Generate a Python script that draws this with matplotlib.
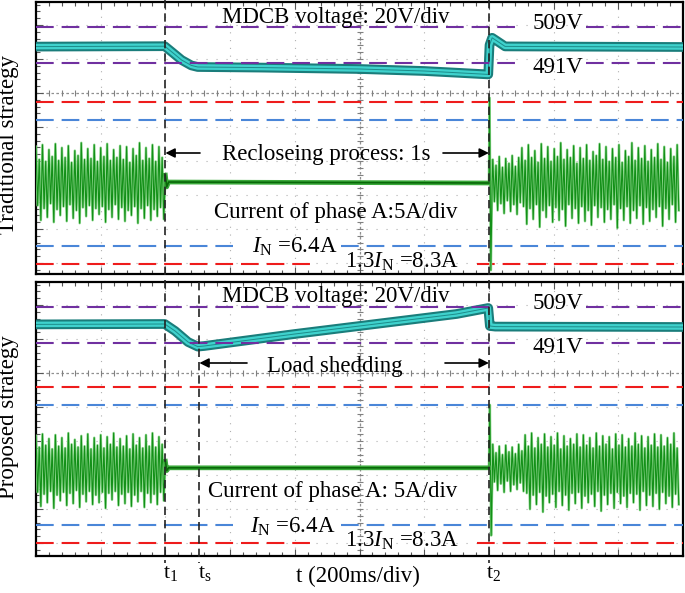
import numpy as np
import matplotlib
matplotlib.use("Agg")
import matplotlib.pyplot as plt
from matplotlib.lines import Line2D
from matplotlib.patches import FancyArrowPatch
from matplotlib.transforms import blended_transform_factory, offset_copy

plt.rcParams["font.family"] = "Liberation Serif"
plt.rcParams["mathtext.fontset"] = "custom"
plt.rcParams["mathtext.rm"] = "Liberation Serif"
plt.rcParams["mathtext.it"] = "Liberation Serif:italic"

# time base: 200 ms/div, 10 div
t_end = 2000
t1, ts, t2 = 400, 505, 1400
v_hi, v_lo = 509, 491      # V
i_n, i_lim = 6.4, 8.3      # A
step_ms = 10               # one main + one secondary spike per 50 Hz cycle

# MDCB voltage (ms, V)
trad_v_t = [0, 398, 420, 450, 480, 500, 700, 1000, 1200, 1398, 1402, 1410, 1425, 1450, 2000]
trad_v = [499.2, 499.4, 496.5, 492.5, 489.8, 489.0, 488.7, 488.0, 487.0, 485.3, 500.0, 503.6, 502.0, 499.3, 499.0]
prop_v_t = [0, 398, 430, 470, 500, 520, 800, 1100, 1300, 1398, 1403, 1420, 2000]
prop_v = [500.3, 500.5, 497.0, 491.5, 489.2, 489.5, 495.5, 501.5, 505.5, 508.5, 499.5, 499.2, 499.0]

# phase A current, spike peaks / troughs (A)
trad_pre_pk = [3.7, 2.4, 3.9, 2.2, 3.4, 2.7, 4.0, 2.3, 3.6, 2.6, 3.8, 2.1, 3.3, 2.8, 4.1, 2.4, 3.5, 2.5, 3.9, 2.2,
               3.6, 2.7, 4.0, 2.3, 3.4, 2.6, 3.8, 2.4, 3.7, 2.1, 3.5, 2.8, 4.1, 2.3, 3.6, 2.5, 3.9, 2.2, 3.7, 2.6]
trad_pre_tr = [-2.3, -3.8, -2.6, -3.5, -2.1, -4.0, -2.7, -3.3, -2.4, -3.9, -2.2, -3.6, -2.8, -4.1, -2.5, -3.4, -2.3, -3.8, -2.6, -3.2,
               -2.4, -4.0, -2.7, -3.5, -2.2, -3.7, -2.5, -3.9, -2.8, -3.3, -2.4, -4.1, -2.6, -3.6, -2.3, -3.8, -2.7, -3.4, -2.5, -3.7]
trad_mid_t = [400, 404, 410, 1400]
trad_mid = [0.8, -0.4, 0.1, 0.0]
trad_step_t = [1400, 1402, 1406, 1410]
trad_step = [0.0, 8.7, -8.9, 0.0]
trad_post_pk = [2.4, 1.8, 2.7, 1.6, 2.5, 2.0, 2.8, 1.7, 2.6,
                3.6, 2.3, 3.9, 2.6, 3.3, 2.1, 4.0, 2.5, 3.7, 2.2, 3.5, 2.7, 4.1, 2.4, 3.4, 2.6, 3.8, 2.0, 3.6, 2.5,
                3.9, 2.3, 3.2, 2.8, 4.0, 2.4, 3.7, 2.2, 3.5, 2.6, 3.9, 2.1, 3.3, 2.7, 4.1, 2.3, 3.6, 2.5, 3.8, 2.2,
                3.4, 2.6, 4.0, 2.4, 3.7, 2.1, 3.5, 2.7, 3.9]
trad_post_tr = [-1.9, -2.8, -2.1, -3.1, -1.8, -2.9, -2.2, -3.2, -2.0,
                -2.4, -4.2, -2.6, -3.7, -2.2, -4.5, -2.8, -3.5, -2.3, -4.0, -2.5, -3.8, -2.7, -4.4, -2.2, -3.6, -2.6, -4.1, -2.4, -3.9,
                -2.8, -4.3, -2.3, -3.5, -2.5, -4.0, -2.7, -3.7, -2.2, -4.6, -2.6, -3.8, -2.4, -4.1, -2.8, -3.6, -2.3, -4.2, -2.5, -3.9,
                -2.7, -3.5, -2.4, -4.4, -2.6, -3.7, -2.2, -4.0, -2.8]

prop_pre_pk = [3.1, 1.9, 3.3, 2.1, 2.8, 1.7, 3.2, 2.0, 2.9, 1.8, 3.4, 2.2, 2.7, 1.9, 3.1, 2.0, 3.3, 1.7, 2.9, 2.1,
               3.2, 1.8, 3.0, 2.2, 3.4, 1.9, 2.8, 2.0, 3.1, 1.7, 3.3, 2.1, 2.9, 1.8, 3.2, 2.0, 3.4, 1.9, 3.0, 2.2]
prop_pre_tr = [-2.9, -4.4, -3.1, -4.0, -2.8, -4.6, -3.2, -3.8, -2.9, -4.3, -3.0, -4.1, -2.7, -4.5, -3.1, -3.9, -2.8, -4.2, -3.2, -4.0,
               -2.9, -4.6, -3.0, -3.7, -2.8, -4.3, -3.1, -4.1, -2.9, -4.4, -3.2, -3.9, -2.8, -4.5, -3.0, -4.0, -3.1, -4.2, -2.9, -3.8]
prop_mid_t = [400, 404, 410, 1400]
prop_mid = [0.4, -0.6, -0.3, -0.3]
prop_step_t = [1400, 1403, 1407, 1411]
prop_step = [-0.3, 6.4, -7.5, -0.5]
prop_post_pk = [2.2, 1.3, 2.0, 1.1, 2.1, 1.4, 1.9, 1.2, 2.2, 1.5,
                3.2, 2.0, 3.4, 1.8, 2.9, 2.2, 3.3, 1.9, 3.0, 2.1, 3.4, 1.7, 3.1, 2.0, 2.8, 2.2, 3.3, 1.9, 3.2, 2.1,
                2.9, 1.8, 3.4, 2.0, 3.1, 2.2, 3.0, 1.7, 3.3, 2.1, 3.2, 1.9, 2.8, 2.0, 3.4, 2.2, 3.1, 1.8, 3.0, 2.1,
                3.3, 1.9, 3.2, 2.0, 2.9, 2.2, 3.4, 1.8]
prop_post_tr = [-1.8, -2.7, -2.0, -2.9, -1.7, -2.8, -2.1, -2.6, -1.9, -2.8,
                -3.0, -4.7, -3.2, -4.2, -2.9, -5.0, -3.3, -4.0, -3.1, -4.5, -2.8, -4.3, -3.2, -4.8, -3.0, -4.1, -2.9, -4.6, -3.3, -4.0,
                -3.1, -4.4, -2.8, -4.9, -3.2, -4.2, -3.0, -4.6, -2.9, -4.1, -3.3, -4.5, -3.0, -4.0, -3.1, -4.8, -2.8, -4.3, -3.2, -4.4,
                -3.0, -4.7, -2.9, -4.1, -3.3, -4.5, -3.1, -4.2]

W, H = 685, 593
fig = plt.figure(figsize=(W / 100, H / 100), dpi=100)


def box(x0, y0, x1, y1):
    return [x0 / W, 1 - y1 / H, (x1 - x0) / W, (y1 - y0) / H]


def fy(y):
    return 1 - y / H


def spikes(start, pk, tr):
    t = start + step_ms * np.arange(len(pk))
    return np.column_stack([t, t + step_ms / 2]).ravel(), np.column_stack([pk, tr]).ravel()


purple, red, blue = "#7030a0", "#ee1c1c", "#4a86d8"
dash = (0, (8.5, 3.8))


def panel(ax, hpx, zero_px, px_per_a, v_t, v, pre, mid, step, post):
    ax.set_xlim(0, t_end)
    ax.set_ylim(hpx, 0)
    # scope graticule
    for k in range(1, 10):
        ax.axvline(200 * k, color="#b0b0b0", lw=0.8, ls=(0, (1, 6)), zorder=0)
    rows = [r for r in 91 + 34 * np.arange(-3, 7) if 0 < r < hpx]
    for r in rows:
        ax.axhline(r, color="#b0b0b0", lw=0.8, ls=(0, (1, 8)), zorder=0)
    ax.axhline(91, color="#909090", lw=0.9, ls=(0, (2, 2)), zorder=0)
    ax.axvline(1000, color="#909090", lw=0.9, ls=(0, (2, 2)), zorder=0)
    mx = np.arange(40, t_end, 40)
    my = [m for m in 91 + 6.8 * np.arange(-14, 30) if 0 < m < hpx]
    ax.plot(mx, [91] * len(mx), ls="none", marker="|", ms=4, color="#808080", mew=0.8, zorder=0)
    ax.plot([1000] * len(my), my, ls="none", marker="_", ms=4, color="#808080", mew=0.8, zorder=0)
    ax.set_xticks(np.arange(0, t_end + 1, 200))
    ax.set_xticks(mx, minor=True)
    ax.set_yticks(rows)
    ax.set_yticks(my, minor=True)
    ax.tick_params(which="both", direction="in", top=True, right=True, labelbottom=False,
                   labelleft=False, color="#555555", width=0.8)
    ax.tick_params(which="major", length=5)
    ax.tick_params(which="minor", length=3)
    for s in ax.spines.values():
        s.set_linewidth(1.6)
        s.set_zorder(5)

    # voltage channel (2 px per V)
    av = ax.twinx()
    av.set_ylim(509 + 25 / 2 - hpx / 2, 509 + 25 / 2)
    av.axis("off")
    av.plot(v_t, v, color="#1a7d7b", lw=7, solid_capstyle="butt", zorder=2)
    av.plot(v_t, v, color="#3fd2cd", lw=4, solid_capstyle="butt", zorder=2)
    av.plot(v_t, v, color="#1c8c8a", lw=0.7, zorder=2)
    av.hlines([v_hi, v_hi, v_lo, v_lo], [0, 1701, 0, 1701], [1494, t_end, 1494, t_end],
              colors=purple, lw=1.5, linestyles=[dash], zorder=3)

    # current channel
    ai = ax.twinx()
    ai.set_ylim(-(hpx - zero_px) / px_per_a, zero_px / px_per_a)
    ai.axis("off")
    ai.hlines([i_lim, i_n], 0, t_end, colors=[red, blue], lw=1.5, linestyles=[dash], zorder=1)
    ai.hlines([-i_n, -i_n], [0, 944], [608, t_end], colors=blue, lw=1.5, linestyles=[dash], zorder=1)
    ai.hlines([-i_lim, -i_lim], [0, 1364], [855, t_end], colors=red, lw=1.5, linestyles=[dash], zorder=1)
    pt, pv = spikes(0, *pre)
    qt, qv = spikes(1412, *post)
    ct = np.concatenate([pt, mid[0], step[0], qt])
    cv = np.concatenate([pv, mid[1], step[1], qv])
    ai.plot(ct, cv, color="#8ed88e", lw=1.8, zorder=2)
    ai.plot(ct, cv, color="#139018", lw=0.8, zorder=2)
    ai.plot(mid[0], mid[1], color="#3aa83a", lw=3.4, zorder=2)
    ai.plot(mid[0], mid[1], color="#086808", lw=1.2, zorder=2)
    return av, ai


ax_top = fig.add_axes(box(36, 2, 683, 274))
ax_bot = fig.add_axes(box(36, 282, 683, 556))
panel(ax_top, 272, 181, 9.8, trad_v_t, trad_v, (trad_pre_pk, trad_pre_tr), (trad_mid_t, trad_mid),
      (trad_step_t, trad_step), (trad_post_pk, trad_post_tr))
panel(ax_bot, 274, 183, 9.4, prop_v_t, prop_v, (prop_pre_pk, prop_pre_tr), (prop_mid_t, prop_mid),
      (prop_step_t, prop_step), (prop_post_pk, prop_post_tr))

# event markers spanning the figure
tr = blended_transform_factory(ax_top.transData, fig.transFigure)
for t, y0, y1 in [(t1, 0, 563), (t2, 0, 563), (ts, 282, 563)]:
    fig.add_artist(Line2D([t, t], [fy(y0), fy(y1)], transform=tr, color="#222222",
                          lw=1.2, ls=(0, (5, 3)), zorder=10))
lab_tr = offset_copy(tr, fig=fig, x=5, y=0, units="dots")
for t, s in [(t1, "t$_1$"), (ts, "t$_\\mathrm{s}$"), (t2, "t$_2$")]:
    fig.text(t, fy(578), s, transform=lab_tr, ha="center", va="baseline", fontsize=16)
fig.text(358 / W, fy(582), "t (200ms/div)", ha="center", va="baseline", fontsize=16.5)

fs = 16.5
txt = [
    (336, 23, "MDCB voltage: 20V/div"), (558, 29, "509V"), (558, 73, "491V"),
    (326, 160, "Recloseing process: 1s"), (336, 218, "Current of phase A:5A/div"),
    (295, 253, "$I_\\mathrm{N}$ =6.4A"), (402, 268, "1.3$I_\\mathrm{N}$ =8.3A"),
    (336, 302, "MDCB voltage: 20V/div"), (558, 309, "509V"), (558, 353, "491V"),
    (335, 372, "Load shedding"), (333, 497, "Current of phase A: 5A/div"),
    (293, 533, "$I_\\mathrm{N}$ =6.4A"), (402, 547, "1.3$I_\\mathrm{N}$ =8.3A"),
]
for x, y, s in txt:
    fig.text(x / W, fy(y), s, ha="center", va="baseline", fontsize=fs)
fig.text(9 / W, fy(145), "Traditional strategy", rotation=90, ha="center", va="center", fontsize=fs)
fig.text(9 / W, fy(417), "Proposed strategy", rotation=90, ha="center", va="center", fontsize=fs)

# duration arrows
to_fig = fig.transFigure.inverted()
arr = dict(arrowstyle="-|>", color="black", lw=1.2, mutation_scale=14, shrinkA=0, shrinkB=0)
for tip, tail_px, y in [(t1, 200, 153), (t2, 443, 153), (ts, 247, 363), (t2, 445, 363)]:
    tip_x = to_fig.transform(ax_top.transData.transform((tip, 0)))[0]
    fig.add_artist(FancyArrowPatch(posA=(tail_px / W, fy(y)), posB=(tip_x, fy(y)),
                                   transform=fig.transFigure, zorder=11, **arr))

fig.savefig("out.png", dpi=100)
